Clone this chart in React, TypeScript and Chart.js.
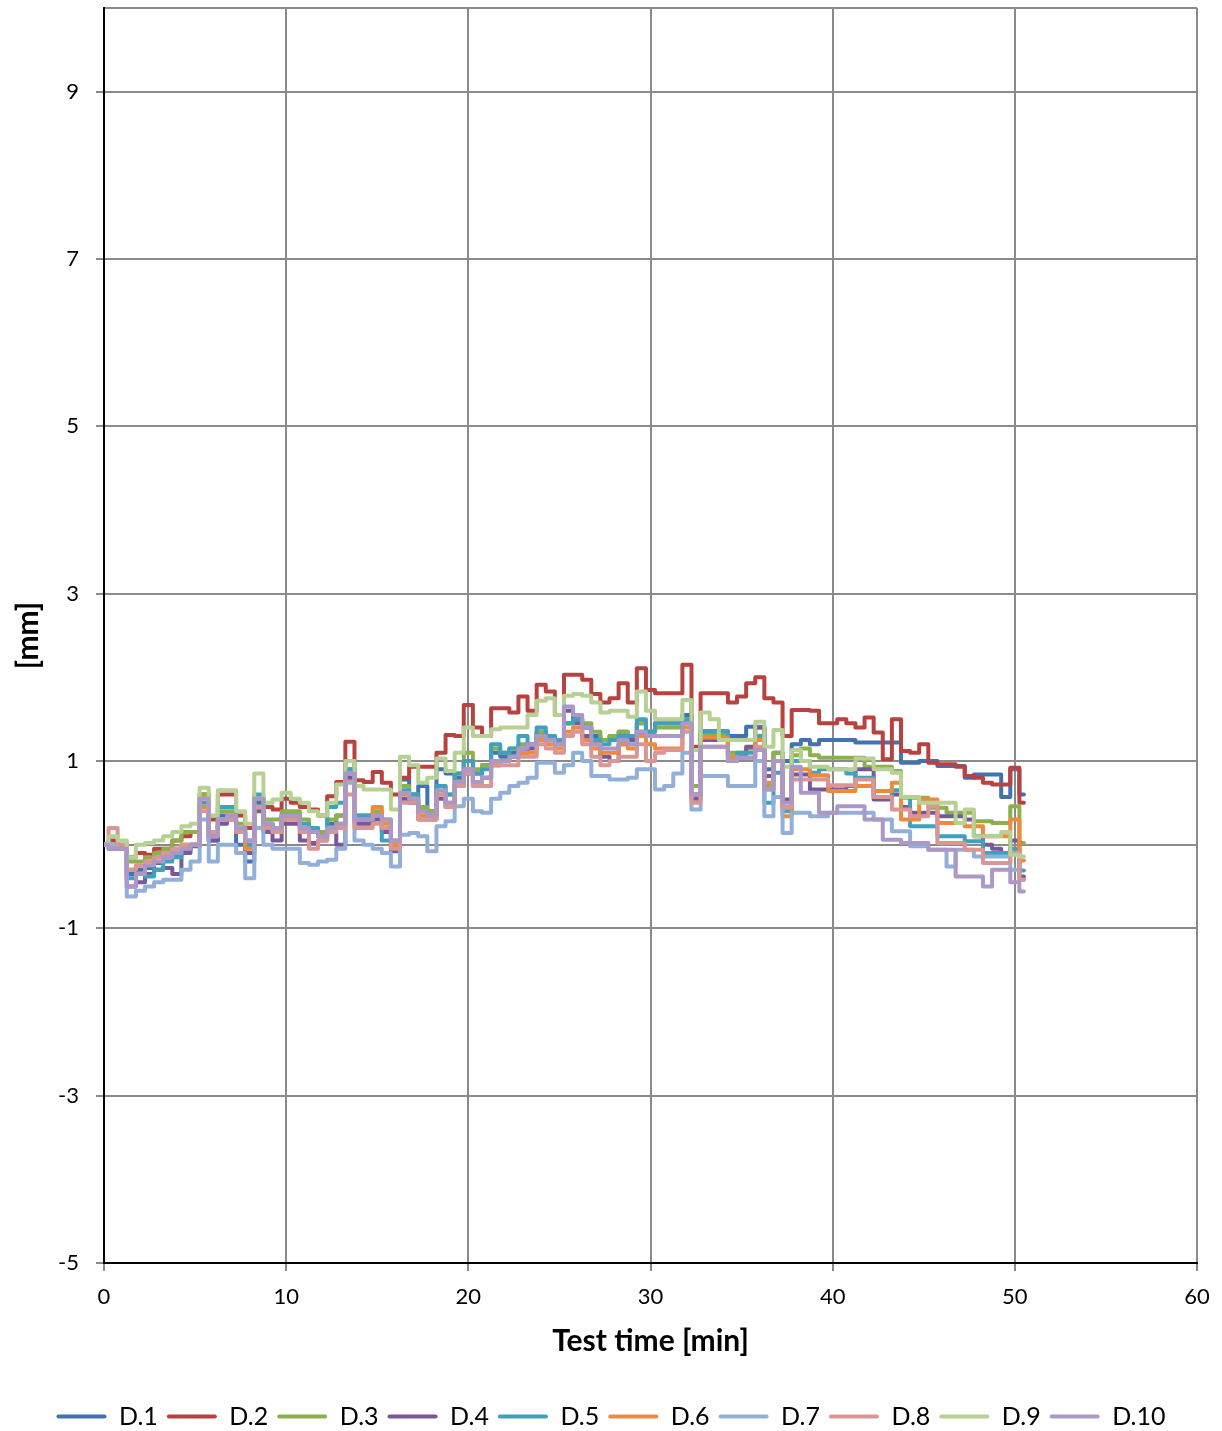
import React, { useEffect, useRef } from "react";
import { Chart, registerables } from "chart.js";

Chart.register(...registerables);

const FONT = "Lato, 'Liberation Sans', Arial, sans-serif";

// sampling grid of test time [min]
const times = [
  0, 0.5, 1, 1.5, 2, 2.5, 3, 3.5, 4, 4.5,
  5, 5.5, 6, 6.5, 7, 7.5, 8, 8.5, 9, 9.5,
  10, 10.5, 11, 11.5, 12, 12.5, 13, 13.5, 14, 14.5,
  15, 15.5, 16, 16.5, 17, 17.5, 18, 18.5, 19, 19.5,
  20, 20.5, 21, 21.5, 22, 22.5, 23, 23.5, 24, 24.5,
  25, 25.5, 26, 26.5, 27, 27.5, 28, 28.5, 29, 29.5,
  30, 30.5, 31, 31.5, 32, 32.5, 33, 33.5, 34, 34.5,
  35, 35.5, 36, 36.5, 37, 37.5, 38, 38.5, 39, 39.5,
  40, 40.5, 41, 41.5, 42, 42.5, 43, 43.5, 44, 44.5,
  45, 45.5, 46, 46.5, 47, 47.5, 48, 48.5, 49, 49.5,
  50, 50.5,
];

const seriesNames = ["D.1", "D.2", "D.3", "D.4", "D.5", "D.6", "D.7", "D.8", "D.9", "D.10"];
const seriesColors = [
  "#4273B0", "#B8423F", "#8CB04B", "#76589B", "#3FA1BD",
  "#EE8A3C", "#92AFD9", "#D99694", "#B7D093", "#AB98C6",
];

const d1 = [
  0, -0.02, -0.05, -0.35, -0.3, -0.28, -0.22, -0.15, -0.12, -0.05,
  0.0, 0.45, 0.05, 0.35, 0.35, 0.0, -0.2, 0.5, 0.25, 0.2,
  0.35, 0.35, 0.2, 0.15, 0.1, 0.25, 0.35, 0.85, 0.3, 0.3,
  0.35, 0.2, 0.0, 0.78, 0.6, 0.7, 0.4, 0.9, 0.85, 0.8,
  1.0, 0.85, 0.95, 1.1, 1.05, 1.1, 1.15, 1.2, 1.35, 1.3,
  1.25, 1.45, 1.5, 1.4, 1.3, 1.25, 1.3, 1.35, 1.3, 1.45,
  1.35, 1.45, 1.45, 1.45, 1.55, 0.7, 1.35, 1.35, 1.35, 1.3,
  1.3, 1.41, 1.41, 0.9, 1.1, 1.0, 1.2, 1.25, 1.2, 1.25,
  1.25, 1.25, 1.25, 1.22, 1.22, 1.22, 1.22, 1.22, 0.98, 0.98,
  1.0, 1.0, 0.94, 0.94, 0.94, 0.8, 0.84, 0.84, 0.84, 0.57,
  0.9, 0.6,
];
const d2 = [
  0, 0.05, 0.0, -0.15, -0.1, -0.12, -0.05, -0.05, 0.05, 0.1,
  0.15, 0.6, 0.3, 0.6, 0.6, 0.35, 0.2, 0.55, 0.45, 0.42,
  0.55, 0.5, 0.45, 0.42, 0.35, 0.58, 0.75, 1.23, 0.77, 0.75,
  0.87, 0.74, 0.6, 0.8, 0.93, 0.93, 0.93, 1.1, 1.31, 1.3,
  1.67, 1.4, 1.3, 1.63, 1.63, 1.58, 1.77, 1.6, 1.91, 1.83,
  1.55, 2.03, 2.03, 1.97, 1.8, 1.7, 1.75, 1.93, 1.7, 2.11,
  1.85, 1.81, 1.81, 1.81, 2.15, 1.17, 1.81, 1.81, 1.81, 1.7,
  1.77, 1.93, 2.0, 1.75, 1.7, 1.3, 1.61, 1.61, 1.6, 1.45,
  1.45, 1.5, 1.45, 1.4, 1.52, 1.34, 1.02, 1.5, 1.12, 1.1,
  1.2, 0.98, 0.96, 0.96, 0.93, 0.82, 0.8, 0.74, 0.72, 0.72,
  0.92, 0.5,
];
const d3 = [
  0, 0.0, -0.05, -0.2, -0.2, -0.15, -0.1, -0.05, 0.05, 0.15,
  0.15, 0.6, 0.1, 0.4, 0.4, 0.25, 0.0, 0.55, 0.3, 0.3,
  0.4, 0.4, 0.3, 0.2, 0.15, 0.3, 0.35, 0.9, 0.35, 0.35,
  0.4, 0.3, 0.05, 0.7, 0.6, 0.45, 0.4, 0.7, 0.6, 0.85,
  1.1, 0.9, 0.95, 1.15, 1.1, 1.15, 1.2, 1.2, 1.35, 1.3,
  1.25, 1.45, 1.5, 1.45, 1.35, 1.25, 1.3, 1.35, 1.3, 1.45,
  1.35, 1.4, 1.4, 1.4, 1.5, 0.7, 1.3, 1.3, 1.3, 1.1,
  1.1, 1.15, 1.4, 0.7, 1.1, 0.45, 1.07, 1.15, 1.07, 1.04,
  1.04, 1.04, 1.04, 1.04, 0.93, 0.93, 0.93, 0.88, 0.56, 0.56,
  0.56, 0.44, 0.44, 0.38, 0.38, 0.38, 0.28, 0.28, 0.26, 0.26,
  0.46, 0.02,
];
const d4 = [
  0, -0.05, -0.05, -0.5, -0.45, -0.35, -0.3, -0.28, -0.35, -0.1,
  -0.02, 0.45, 0.05, 0.25, 0.3, 0.15, -0.1, 0.4, 0.15, 0.05,
  0.25, 0.25, 0.05, 0.02, 0.05, 0.15, 0.0, 0.8, 0.25, 0.25,
  0.3, 0.15, -0.08, 0.55, 0.5, 0.3, 0.3, 0.55, 0.45, 0.7,
  0.85, 0.75, 0.8, 0.95, 1.0, 1.05, 1.1, 1.15, 1.3, 1.25,
  1.2, 1.6, 1.45, 1.3, 1.2, 1.05, 1.0, 1.2, 1.25, 1.35,
  1.3, 1.3, 1.3, 1.3, 1.45, 0.55, 1.25, 1.25, 1.25, 1.0,
  1.05, 1.17, 1.4, 0.82, 1.0, 0.54, 0.84, 0.84, 0.66, 0.66,
  0.66, 0.66, 0.7, 0.9, 0.9, 0.54, 0.54, 0.6, 0.45, 0.38,
  0.38, 0.38, 0.34, 0.34, 0.34, 0.3, 0.1, 0.0, -0.05, -0.1,
  0.05, -0.38,
];
const d5 = [
  0, -0.02, -0.05, -0.4, -0.35, -0.38, -0.3, -0.2, -0.15, -0.05,
  0.0, 0.5, 0.1, 0.45, 0.45, 0.2, 0.0, 0.6, 0.25, 0.2,
  0.35, 0.35, 0.25, 0.2, 0.1, 0.45, 0.5, 0.9, 0.35, 0.35,
  0.35, 0.05, 0.0, 0.65, 0.6, 0.4, 0.35, 0.7, 0.6, 0.85,
  1.0, 0.85, 0.9, 1.2, 1.1, 1.15, 1.3, 1.2, 1.4, 1.3,
  1.25, 1.45, 1.5, 1.4, 1.25, 1.2, 1.25, 1.3, 1.3, 1.5,
  1.35, 1.45, 1.45, 1.45, 1.5, 0.6, 1.36, 1.36, 1.36, 1.05,
  1.1, 1.1, 1.3, 0.5, 0.86, 0.4, 1.0, 1.0, 0.86, 0.9,
  0.9, 0.9, 0.85, 0.8, 0.8, 0.57, 0.57, 0.65, 0.57, 0.22,
  0.22, 0.22, 0.1, 0.1, 0.1, 0.04, 0.04, -0.1, -0.1, -0.1,
  -0.05, -0.31,
];
const d6 = [
  0, -0.02, -0.05, -0.3, -0.25, -0.2, -0.15, -0.1, -0.05, 0.0,
  0.0, 0.45, 0.1, 0.3, 0.3, 0.15, -0.05, 0.45, 0.2, 0.15,
  0.3, 0.3, 0.2, 0.15, 0.1, 0.2, 0.25, 0.75, 0.3, 0.3,
  0.45, 0.25, 0.0, 0.6, 0.55, 0.35, 0.35, 0.6, 0.5, 0.75,
  0.9, 0.7, 0.8, 0.95, 1.0, 1.05, 1.1, 1.1, 1.25, 1.2,
  1.15, 1.35, 1.4, 1.25, 1.15, 1.1, 1.1, 1.2, 1.15, 1.3,
  1.2, 1.15, 1.15, 1.15, 1.4, 0.6, 1.28, 1.28, 1.28, 1.05,
  1.04, 1.04, 1.25, 0.74, 1.0, 0.34, 0.9, 0.9, 0.83, 0.83,
  0.64, 0.64, 0.64, 0.7, 0.7, 0.64, 0.64, 0.74, 0.3, 0.3,
  0.54, 0.54, 0.26, 0.26, 0.26, 0.22, 0.22, 0.1, 0.1, 0.1,
  0.3, -0.19,
];
const d7 = [
  0, 0, -0.05, -0.62, -0.55, -0.5, -0.45, -0.42, -0.42, -0.3,
  -0.2, 0.3, -0.2, 0.0, 0.0, -0.1, -0.4, 0.2, 0.0, -0.05,
  -0.05, -0.05, -0.22, -0.24, -0.2, -0.18, -0.05, 0.74, 0.05, 0.0,
  -0.05, -0.1, -0.26, 0.12, 0.14, 0.1, -0.08, 0.22, 0.28, 0.46,
  0.55, 0.4, 0.38, 0.55, 0.62, 0.7, 0.74, 0.8, 0.98, 0.98,
  0.86, 0.95, 1.1, 1.0, 0.82, 0.82, 0.78, 0.78, 0.8, 0.9,
  0.9, 0.66, 0.7, 0.85, 1.1, 0.42, 0.82, 0.82, 0.82, 0.7,
  0.7, 0.7, 1.0, 0.34, 0.57, 0.14, 0.38, 0.38, 0.34, 0.34,
  0.38, 0.38, 0.38, 0.38, 0.38, 0.3, 0.3, 0.16, 0.16, -0.02,
  -0.02, -0.06, -0.06, -0.26, -0.06, -0.06, -0.14, -0.14, -0.14, -0.14,
  -0.3, -0.42,
];
const d8 = [
  0, 0.2, 0.0, -0.3, -0.25, -0.2, -0.15, -0.1, -0.05, 0.0,
  0.0, 0.4, 0.15, 0.3, 0.3, 0.15, 0.05, 0.45, 0.2, 0.15,
  0.3, 0.3, 0.15, -0.05, 0.05, 0.15, 0.2, 0.6, 0.2, 0.2,
  0.25, 0.2, -0.05, 0.5, 0.5, 0.3, 0.3, 0.6, 0.45, 0.7,
  0.85, 0.7, 0.7, 0.95, 0.95, 0.95, 1.05, 1.05, 1.2, 1.15,
  1.1, 1.3, 1.35, 1.2, 1.05, 0.95, 1.0, 1.05, 1.05, 1.2,
  1.0, 1.1, 1.13, 1.13, 1.35, 0.5, 1.17, 1.17, 1.17, 1.0,
  1.04, 1.04, 1.17, 0.66, 1.0, 0.45, 0.78, 0.78, 0.78, 0.78,
  0.71, 0.71, 0.71, 0.78, 0.78, 0.57, 0.57, 0.42, 0.42, 0.34,
  0.34, 0.46, 0.02, 0.02, 0.02, -0.06, -0.06, -0.22, -0.22, -0.22,
  -0.1, -0.42,
];
const d9 = [
  0, 0.1, 0.05, -0.15, 0.0, 0.02, 0.05, 0.1, 0.15, 0.22,
  0.25, 0.68, 0.35, 0.65, 0.65, 0.4, 0.25, 0.85, 0.5, 0.54,
  0.62, 0.55, 0.5, 0.4, 0.35, 0.5, 0.72, 1.0, 0.7, 0.66,
  0.66, 0.66, 0.42, 1.05, 0.95, 0.74, 0.8, 1.03, 0.88, 1.1,
  1.4, 1.3, 1.3, 1.38, 1.4, 1.4, 1.4, 1.55, 1.72, 1.75,
  1.55, 1.78, 1.8, 1.78, 1.7, 1.58, 1.6, 1.6, 1.53, 1.83,
  1.6, 1.5, 1.5, 1.5, 1.73, 1.13, 1.58, 1.5, 1.25, 1.25,
  1.25, 1.25, 1.47, 1.17, 1.37, 0.93, 1.13, 1.0, 0.93, 0.93,
  0.9, 0.9, 0.9, 1.03, 1.03, 0.9, 0.9, 0.86, 0.57, 0.57,
  0.5, 0.5, 0.5, 0.5, 0.26, 0.42, 0.1, 0.1, 0.1, 0.15,
  -0.12, -0.14,
];
const d10 = [
  0, -0.05, -0.05, -0.5, -0.35, -0.25, -0.2, -0.15, -0.1, -0.05,
  0.0, 0.55, 0.1, 0.3, 0.35, 0.2, 0.05, 0.55, 0.25, 0.2,
  0.35, 0.35, 0.2, 0.15, 0.1, 0.2, 0.25, 0.85, 0.3, 0.3,
  0.35, 0.3, 0.05, 0.62, 0.55, 0.4, 0.35, 0.65, 0.5, 0.75,
  0.9, 0.75, 0.8, 1.0, 1.0, 1.05, 1.15, 1.2, 1.3, 1.25,
  1.2, 1.65, 1.55, 1.4, 1.2, 1.15, 1.15, 1.25, 1.2, 1.35,
  1.3, 1.3, 1.3, 1.3, 1.45, 0.6, 1.17, 1.17, 1.17, 1.0,
  1.04, 1.04, 1.13, 0.66, 1.0, 0.5, 0.93, 0.62, 0.62, 0.38,
  0.38, 0.46, 0.46, 0.46, 0.3, 0.3, 0.06, 0.06, 0.02, 0.02,
  0.02, -0.06, -0.06, -0.06, -0.38, -0.38, -0.38, -0.5, -0.3, -0.3,
  -0.45, -0.56,
];

const yTickValues = [-5, -3, -1, 0, 1, 3, 5, 7, 9, 10];
const yHiddenLabels = [0, 10];

export default function App() {
  const ref = useRef<HTMLCanvasElement>(null);

  useEffect(() => {
    document.body.style.margin = "0";
    const canvas = ref.current;
    if (!canvas) return;
    const all = [d1, d2, d3, d4, d5, d6, d7, d8, d9, d10];
    const datasets = all
      .map((vals, i) => ({
        label: seriesNames[i],
        data: times.map((t, j) => ({ x: t, y: vals[j] })),
        borderColor: seriesColors[i],
        backgroundColor: seriesColors[i],
        borderWidth: 4,
        pointRadius: 0,
        pointHoverRadius: 0,
        tension: 0,
        stepped: "middle" as const,
        fill: false,
        borderJoinStyle: "round" as const,
        borderCapStyle: "round" as const,
      }))
      .reverse();

    const gridColor = "#8a8a8a";

    const chart = new Chart(canvas, {
      type: "line",
      data: { datasets },
      options: {
        responsive: false,
        animation: false,
        events: [],
        layout: { padding: { left: 0, right: 0, top: 8, bottom: -8 } },
        plugins: {
          tooltip: { enabled: false },
          legend: {
            position: "bottom",
            reverse: true,
            labels: {
              boxWidth: 50,
              boxHeight: 4,
              padding: 9,
              color: "#000",
              font: { family: FONT, size: 25 },
              generateLabels: (c: any) =>
                Chart.defaults.plugins.legend.labels
                  .generateLabels(c)
                  .map((l: any) => ({ ...l, lineWidth: 0, borderRadius: 2 })),
            },
          },
        },
        scales: {
          x: {
            type: "linear",
            min: 0,
            max: 60,
            ticks: {
              stepSize: 10,
              color: "#000",
              padding: 13,
              font: { family: FONT, size: 22 },
            },
            grid: {
              color: gridColor,
              lineWidth: 2,
              tickLength: 8,
              tickColor: gridColor,
            },
            border: { color: "#000", width: 2 },
            title: {
              display: true,
              text: "Test time [min]",
              color: "#000",
              font: { family: FONT, size: 30, weight: "bold" },
              padding: { top: 0, bottom: 36 },
            },
            afterFit: (s: any) => {
              s.height = 132;
              s.paddingLeft = 0;
              s.paddingRight = 0;
            },
          },
          y: {
            type: "linear",
            min: -5,
            max: 10,
            afterBuildTicks: (s: any) => {
              s.ticks = yTickValues.map((v) => ({ value: v }));
            },
            ticks: {
              color: "#000",
              padding: 17,
              font: { family: FONT, size: 22 },
              callback: (v: any) => (yHiddenLabels.includes(Number(v)) ? "" : String(v)),
            },
            grid: {
              color: gridColor,
              lineWidth: 2,
              tickLength: 8,
              tickColor: (ctx: any) =>
                ctx.tick && yHiddenLabels.includes(ctx.tick.value) ? "rgba(0,0,0,0)" : gridColor,
            },
            border: { color: "#000", width: 2 },
            title: {
              display: true,
              text: "[mm]",
              color: "#000",
              font: { family: FONT, size: 30, weight: "bold" },
              padding: { top: 10, bottom: 0 },
            },
            afterFit: (s: any) => {
              s.width = 104;
              s.paddingTop = 0;
              s.paddingBottom = 0;
            },
          },
          y2: {
            type: "linear",
            position: "right",
            display: true,
            grid: { display: false },
            ticks: { display: false },
            border: { display: false },
            afterFit: (s: any) => {
              s.width = 25;
              s.paddingTop = 0;
              s.paddingBottom = 0;
            },
          },
        },
      },
    });
    return () => chart.destroy();
  }, []);

  return (
    <div style={{ width: 1222, height: 1431 }}>
      <canvas ref={ref} width={1222} height={1431} style={{ display: "block" }} />
    </div>
  );
}
